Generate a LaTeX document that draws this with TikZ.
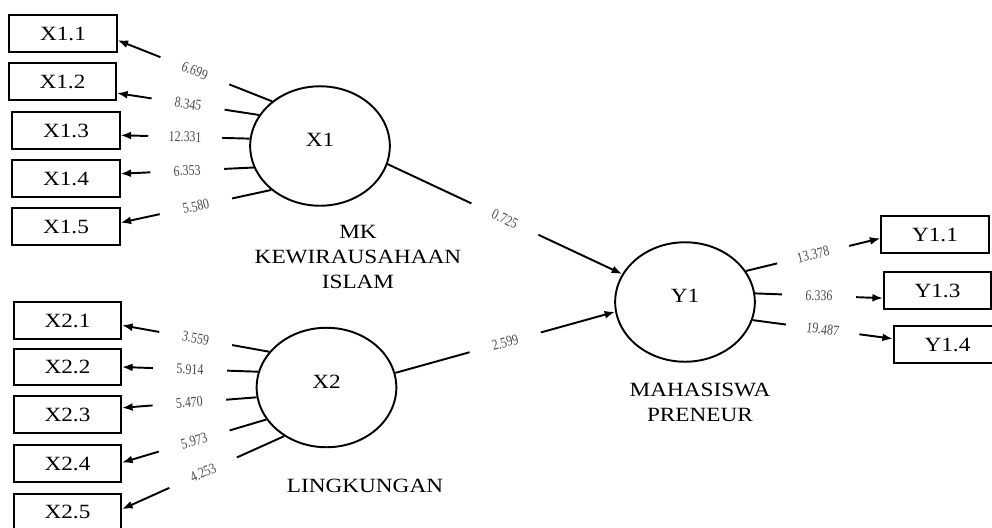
\documentclass[tikz,border=0pt]{standalone}
\usepackage{fontspec}
\setmainfont{Liberation Serif}[FakeStretch=1.15]
\newfontfamily\numfont{Liberation Serif}[FakeStretch=0.8]
\usetikzlibrary{arrows.meta,shapes.geometric}

\begin{document}
\begin{tikzpicture}[x=0.02cm, y=-0.02cm, line width=1.1pt,
        font=\fontsize{11.5}{14.2}\selectfont,
        box/.style={draw, minimum width=61pt, minimum height=21pt, inner sep=0pt},
        latent/.style={draw, ellipse, minimum width=79.5pt, minimum height=68pt, inner sep=0pt, text depth=7pt},
        load/.style={-{Latex[length=6pt,width=4.5pt]}},
        coef/.style={fill=white, sloped, minimum width=42pt, inner sep=1pt, text=black!70,
            font=\numfont\fontsize{8.5}{9}\selectfont}]
    \useasboundingbox (0,0) rectangle (992,528);

    % latent variables
    \node[latent] (X1) at (320,146) {X1};
    \node[latent] (X2) at (326.5,387.5) {X2};
    \node[latent] (Y1) at (685,302) {Y1};

    \node[align=center] (MK) at (358,257) {MK\\KEWIRAUSAHAAN\\ISLAM};
    \node (LK) at (365,486) {LINGKUNGAN};
    \node[align=center] (MP) at (700,402) {MAHASISWA\\PRENEUR};

    % indicators
    \node[box] (X11) at (63,33.5) {X1.1};
    \node[box] (X12) at (62.5,81.5) {X1.2};
    \node[box] (X13) at (66,130.5) {X1.3};
    \node[box] (X14) at (66,178.5) {X1.4};
    \node[box] (X15) at (66,226.5) {X1.5};

    \node[box] (X21) at (67.5,320.5) {X2.1};
    \node[box] (X22) at (67.5,367) {X2.2};
    \node[box] (X23) at (67.5,414.5) {X2.3};
    \node[box] (X24) at (67.5,463.5) {X2.4};
    \node[box] (X25) at (67.5,512) {X2.5};

    \node[box] (Y11) at (935,234.5) {Y1.1};
    \node[box] (Y13) at (937.5,290.5) {Y1.3};
    \node[box] (Y14) at (947.5,344.5) {Y1.4};

    % loadings
    \draw[load] (X1.137) -- node[coef] {6.699} (X11.-7);
    \draw[load] (X1.153) -- node[coef] {8.345} (X12.-12);
    \draw[load] (X1.174) -- node[coef] {12.331} (X13.-5);
    \draw[load] (X1.198) -- node[coef] {6.353} (X14.5);
    \draw[load] (X1.222) -- node[coef] {5.580} (X15.4);

    \draw[load] (X2.148) -- node[coef] {3.559} (X21.-5);
    \draw[load] (X2.167) -- node[coef] {5.914} (X22.0);
    \draw[load] (X2.188) -- node[coef] {5.470} (X23.7);
    \draw[load] (X2.208) -- node[coef] {5.973} (X24.1);
    \draw[load] (X2.229) -- node[coef] {4.253} (X25.3);

    \draw[load] (Y1.27) -- node[coef] {13.378} (Y11.184);
    \draw[load] (Y1.7) -- node[coef] {6.336} (Y13.188);
    \draw[load] (Y1.-15) -- node[coef] {19.487} (Y14.174);

    % paths
    \draw[load] (X1.-15) -- node[coef] {0.725} (Y1.156);
    \draw[load] (X2.12) -- node[coef] {2.599} (Y1.188);
\end{tikzpicture}
\end{document}
